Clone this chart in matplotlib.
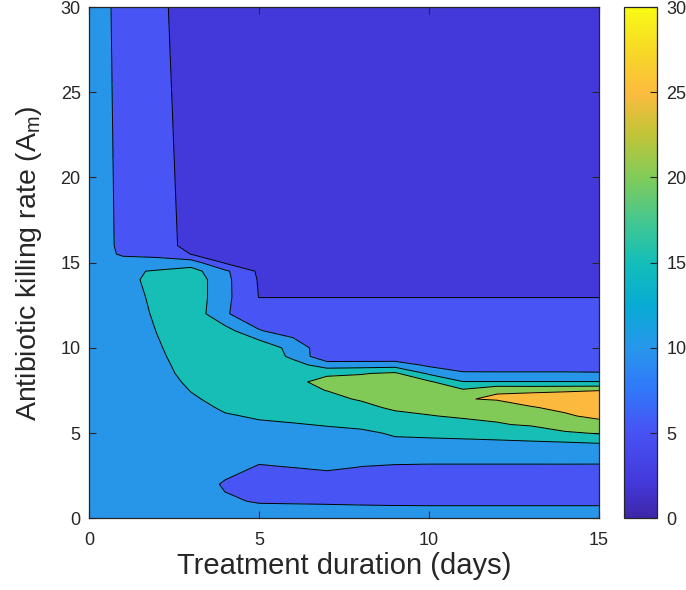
import numpy as np
import matplotlib
matplotlib.use("Agg")
import matplotlib.pyplot as plt
from matplotlib.colors import LinearSegmentedColormap, Normalize
from matplotlib.cm import ScalarMappable

plt.rcParams['font.family'] = ['Liberation Sans', 'DejaVu Sans']

# ---- data ----
duration = [0, 1, 2, 3, 4, 5, 6, 7, 8, 9, 10, 11, 12, 13, 14, 15]
killing_rate = [0, 1, 2, 3, 4, 5, 5.5, 6, 6.5, 7, 7.5, 8, 8.5, 9, 9.5, 10,
                11, 12, 13, 14, 14.5, 15, 15.5, 16, 30]
# one row per killing rate, one value per duration
outcome = [
    [12.5]*16,
    [12.5, 12.5, 12.5, 12.5, 10.6, 9.66, 9.56, 9.45, 9.29, 9.17, 9.12, 9.12, 9.12, 9.12, 9.12, 9.12],
    [12.5, 12.5, 12.5, 12.5, 9.5, 7.5, 7.5, 7.2, 7.0, 7.0, 7.0, 7.0, 7.0, 7.0, 7.0, 7.0],
    [12.5, 12.5, 12.5, 12.5, 11.5, 9.67, 10.05, 10.74, 9.92, 9.52, 9.39, 9.39, 9.39, 9.39, 9.72, 9.7],
    [12.5, 12.5, 12.5, 12.5, 12.5, 11.73, 12.0, 12.0, 12.0, 12.74, 12.8, 12.8, 12.8, 12.8, 11.3, 11.36],
    [12.5, 12.5, 12.5, 12.8, 13.5, 13.2, 13.5, 13.0, 14.0, 15.6, 15.86, 16.13, 16.47, 16.95, 19.2, 20.45],
    [12.5, 12.5, 12.5, 13.0, 14.0, 14.57, 14.5, 15.5, 16.17, 17.0, 17.5, 18.0, 19.6, 20.58, 23.2, 23.5],
    [12.5, 12.5, 12.5, 13.3, 14.7, 15.34, 17.0, 17.0, 17.5, 18.8, 19.7, 20.78, 21.0, 23.0, 24.5, 25.9],
    [12.5, 12.5, 12.5, 13.8, 15.5, 16.5, 18.0, 18.3, 18.8, 20.74, 21.84, 22.5, 22.0, 24.76, 25.8, 26.8],
    [12.5, 12.5, 12.5, 14.5, 16.2, 17.5, 18.7, 19.0, 20.38, 22.0, 23.0, 24.7, 25.5, 26.5, 27.0, 27.3],
    [12.5, 12.5, 12.8, 15.12, 16.8, 18.2, 19.2, 20.05, 21.5, 22.8, 23.8, 20.8, 24.64, 24.42, 24.62, 24.95],
    [12.5, 12.5, 13.0, 15.78, 17.3, 18.7, 18.5, 22.0, 22.0, 23.0, 20.8, 15.2, 15.2, 15.2, 15.2, 15.2],
    [12.5, 12.5, 13.4, 16.42, 17.8, 19.0, 19.0, 19.0, 19.7, 20.8, 14.2, 10.87, 10.8, 10.8, 10.8, 10.6],
    [12.5, 12.5, 13.8, 16.73, 18.2, 19.2, 17.0, 12.5, 12.6, 12.74, 8.95, 6.53, 6.5, 6.5, 6.5, 6.5],
    [12.5, 12.5, 14.2, 17.06, 18.5, 19.0, 13.87, 6.2, 6.2, 6.2, 6.5, 6.5, 6.5, 6.5, 6.5, 6.5],
    [12.5, 12.5, 14.6, 16.95, 18.5, 19.0, 13.0, 6.8, 6.8, 6.8, 6.8, 6.8, 6.8, 6.8, 6.8, 6.8],
    [12.5, 12.5, 15.1, 18.5, 17.0, 10.3, 8.0, 7.8, 7.8, 7.8, 7.8, 7.8, 7.8, 7.8, 7.8, 7.8],
    [12.5, 12.5, 15.66, 18.5, 10.5, 6.9, 6.9, 6.9, 6.9, 6.9, 6.9, 6.9, 6.9, 6.9, 6.9, 6.9],
    [12.5, 12.5, 16.29, 18.5, 11.3, 4.9, 4.9, 4.9, 4.9, 4.9, 4.9, 4.9, 4.9, 4.9, 4.9, 4.9],
    [12.5, 12.5, 17.5, 18.5, 11.3, 4.6, 4.5, 4.5, 4.5, 4.5, 4.5, 4.5, 4.5, 4.5, 4.5, 4.5],
    [12.5, 13.7, 15.66, 17.0, 10.9, 4.2, 4.2, 4.2, 4.2, 4.2, 4.2, 4.2, 4.2, 4.2, 4.2, 4.2],
    [12.5, 11.8, 10.17, 12.5, 4.5, 4.0, 4.0, 4.0, 4.0, 4.0, 4.0, 4.0, 4.0, 4.0, 4.0, 4.0],
    [12.5, 9.4, 9.89, 4.9, 3.5, 3.8, 3.8, 3.8, 3.8, 3.8, 3.8, 3.8, 3.8, 3.8, 3.8, 3.8],
    [12.5, 9.12, 9.6, 2.0, 3.0, 3.5, 3.5, 3.5, 3.5, 3.5, 3.5, 3.5, 3.5, 3.5, 3.5, 3.5],
    [12.5, 8.64, 6.5, 2.0, 2.0, 2.0, 2.0, 2.0, 2.0, 2.0, 2.0, 2.0, 2.0, 2.0, 2.0, 2.0],
]
levels = [0, 5, 10, 15, 20, 25, 30]
x_ticks = [0, 5, 10, 15]
y_ticks = [0, 5, 10, 15, 20, 25, 30]
cbar_ticks = [0, 5, 10, 15, 20, 25, 30]

# ---- style ----
band_colors = ['#4339DB', '#4855F4', '#2896E8', '#17BEB6', '#81CA57', '#FBBA3E']
parula_pts = [(0.2422, 0.1504, 0.6603), (0.263, 0.224, 0.859), (0.2810, 0.3228, 0.9579),
              (0.19, 0.47, 0.98), (0.154, 0.590, 0.922), (0.03, 0.67, 0.83),
              (0.070, 0.746, 0.726), (0.27, 0.78, 0.56), (0.504, 0.799, 0.348),
              (0.75, 0.77, 0.22), (0.987, 0.735, 0.244), (0.97, 0.85, 0.15),
              (0.977, 0.984, 0.08)]
parula_pos = [0, 0.067, 0.167, 0.25, 0.333, 0.4167, 0.5, 0.583, 0.667, 0.75, 0.833, 0.917, 1.0]
parula = LinearSegmentedColormap.from_list('parula', list(zip(parula_pos, parula_pts)), N=256)

txt = '#262626'
fig = plt.figure(figsize=(6.86, 5.90), dpi=100)
ax = fig.add_axes([89/686, 1 - 518.3/590, (599-89)/686, (518.3-7)/590])

X, Y = np.meshgrid(duration, killing_rate)
Z = np.array(outcome)
ax.contourf(X, Y, Z, levels=levels, colors=band_colors)
ax.contour(X, Y, Z, levels=levels[1:-1], colors='k', linewidths=0.7)

ax.set_xlim(0, 15)
ax.set_ylim(0, 30)
ax.set_xticks(x_ticks)
ax.set_yticks(y_ticks)
ax.tick_params(direction='in', top=True, right=True, length=5, width=0.8,
               colors=txt, labelsize=13)
ax.tick_params(axis='x', pad=10)
ax.tick_params(axis='y', pad=6)
for s in ax.spines.values():
    s.set_linewidth(0.9)
    s.set_color(txt)
ax.set_xlabel('Treatment duration (days)', fontsize=21, color=txt, labelpad=2)
ax.set_ylabel('Antibiotic killing rate (A$_{\\mathregular{m}}$)', fontsize=20.5, color=txt, labelpad=12)

cax = fig.add_axes([623.5/686, 1 - 518.3/590, 33/686, (518.3-7)/590])
sm = ScalarMappable(norm=Normalize(0, 30), cmap=parula)
cb = fig.colorbar(sm, cax=cax, ticks=cbar_ticks)
cb.outline.set_linewidth(0.9)
cb.outline.set_edgecolor(txt)
cax.tick_params(direction='in', length=5, width=0.8, colors=txt, labelsize=13, pad=7)

fig.savefig('out.png', dpi=100)
